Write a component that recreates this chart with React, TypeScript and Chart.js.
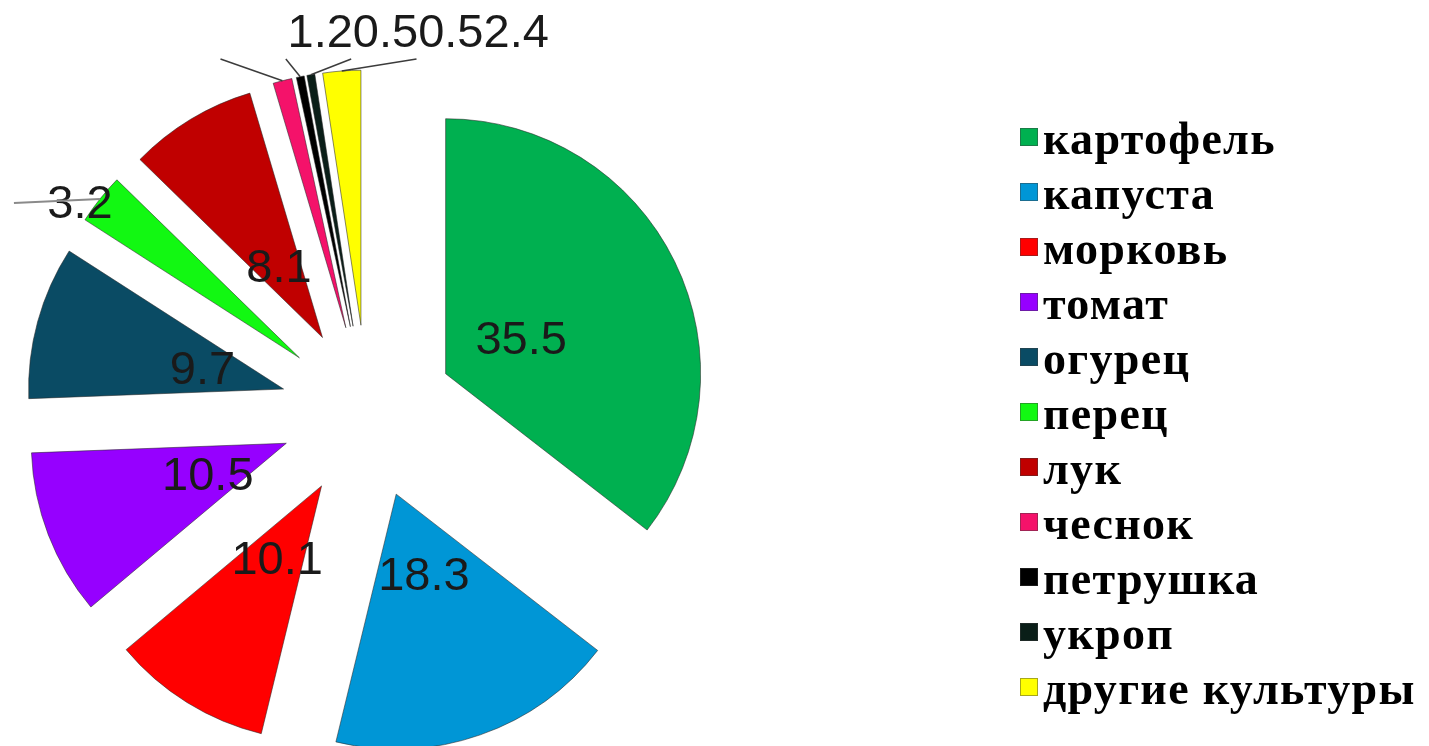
import React, { useEffect, useRef } from "react";
import { Chart, registerables } from "chart.js";

Chart.register(...registerables);

const categories = [
  "картофель",
  "капуста",
  "морковь",
  "томат",
  "огурец",
  "перец",
  "лук",
  "чеснок",
  "петрушка",
  "укроп",
  "другие культуры",
];
const values = [35.5, 18.3, 10.1, 10.5, 9.7, 3.2, 8.1, 1.2, 0.5, 0.5, 2.4];
const colors = [
  "#00B050",
  "#0096D6",
  "#FF0000",
  "#9600FF",
  "#0A4B64",
  "#12F812",
  "#C00000",
  "#F4126A",
  "#000000",
  "#0A1E18",
  "#FFFF00",
];

const PIE_RADIUS = 255;
const EXPLODE = 87;
const LABEL_SIZE = 47;
const LABEL_FONT = `${LABEL_SIZE}px 'Liberation Sans', Arial, sans-serif`;
const OUTSIDE_LIMIT = 5;

const explodePlugin = {
  id: "explodeSlices",
  afterDatasetsUpdate(chart: any) {
    const meta = chart.getDatasetMeta(0);
    meta.data.forEach((arc: any) => {
      const mid = (arc.startAngle + arc.endAngle) / 2;
      arc.x = arc.x + Math.cos(mid) * EXPLODE;
      arc.y = arc.y + Math.sin(mid) * EXPLODE;
    });
  },
};

const labelPlugin = {
  id: "sliceLabels",
  afterDatasetsDraw(chart: any) {
    const ctx = chart.ctx;
    const meta = chart.getDatasetMeta(0);
    const area = chart.chartArea;
    const cx = (area.left + area.right) / 2;
    const cy = (area.top + area.bottom) / 2;
    const capHalf = LABEL_SIZE * 0.358;
    let rowX = cx - 80;
    const rowY = cy - (PIE_RADIUS + EXPLODE) - 40;
    ctx.save();
    ctx.font = LABEL_FONT;
    ctx.textBaseline = "alphabetic";
    meta.data.forEach((arc: any, i: number) => {
      const mid = (arc.startAngle + arc.endAngle) / 2;
      const ux = Math.cos(mid);
      const uy = Math.sin(mid);
      const text = String(values[i]);
      if (values[i] >= OUTSIDE_LIMIT) {
        const px = arc.x + ux * PIE_RADIUS * 0.33;
        const py = arc.y + uy * PIE_RADIUS * 0.33;
        ctx.textAlign = "center";
        ctx.fillStyle = "#1a1a1a";
        ctx.fillText(text, px, py + capHalf);
      } else {
        const ox = arc.x + ux * arc.outerRadius;
        const oy = arc.y + uy * arc.outerRadius;
        ctx.strokeStyle = "#3c3c3c";
        ctx.lineWidth = 1.5;
        ctx.fillStyle = "#1a1a1a";
        if (uy < -0.9) {
          const w = ctx.measureText(text).width;
          ctx.beginPath();
          ctx.moveTo(ox, oy);
          ctx.lineTo(rowX - 67, rowY + 29);
          ctx.stroke();
          ctx.textAlign = "left";
          ctx.fillText(text, rowX, rowY + capHalf);
          rowX += w;
        } else {
          ctx.textAlign = "center";
          ctx.fillText(text, ox - 20, oy + 2 + capHalf);
          ctx.strokeStyle = "#8a8a8a";
          ctx.lineWidth = 2;
          ctx.beginPath();
          ctx.moveTo(ox, oy);
          ctx.lineTo(ox - 86, oy + 4);
          ctx.stroke();
        }
      }
    });
    ctx.restore();
  },
};

function PieChart() {
  const ref = useRef<HTMLCanvasElement | null>(null);
  useEffect(() => {
    if (!ref.current) return;
    const chart = new Chart(ref.current, {
      type: "pie",
      data: {
        labels: categories,
        datasets: [
          {
            data: values,
            backgroundColor: colors,
            borderColor: "rgba(40,40,40,0.55)",
            borderWidth: 1,
          },
        ],
      },
      options: {
        responsive: false,
        animation: false,
        events: [],
        radius: PIE_RADIUS,
        layout: { padding: { left: 0, top: 78, right: 694, bottom: 0 } },
        plugins: {
          legend: { display: false },
          tooltip: { enabled: false },
        },
      } as any,
      plugins: [explodePlugin, labelPlugin],
    });
    return () => chart.destroy();
  }, []);
  return (
    <canvas
      ref={ref}
      width={1429}
      height={746}
      style={{ position: "absolute", left: 0, top: 0, width: 1429, height: 746 }}
    />
  );
}

function Legend() {
  return (
    <div style={{ position: "absolute", left: 1020, top: 111, width: 409 }}>
      {categories.map((c, i) => (
        <div key={c} style={{ position: "relative", height: 55 }}>
          <span
            style={{
              position: "absolute",
              left: 0,
              top: 17,
              width: 16,
              height: 16,
              background: colors[i],
              border: "1px solid rgba(60,60,60,0.45)",
            }}
          />
          <span
            style={{
              position: "absolute",
              left: 23,
              top: 0,
              lineHeight: "55px",
              fontFamily: "'Liberation Serif', 'Times New Roman', serif",
              fontWeight: "bold",
              fontSize: 46,
              letterSpacing: "1.3px",
              color: "#000",
              whiteSpace: "nowrap",
            }}
          >
            {c}
          </span>
        </div>
      ))}
    </div>
  );
}

export default function App() {
  return (
    <div style={{ position: "absolute", left: 0, top: 0, width: 1429, height: 746, background: "#fff" }}>
      <PieChart />
      <Legend />
    </div>
  );
}
